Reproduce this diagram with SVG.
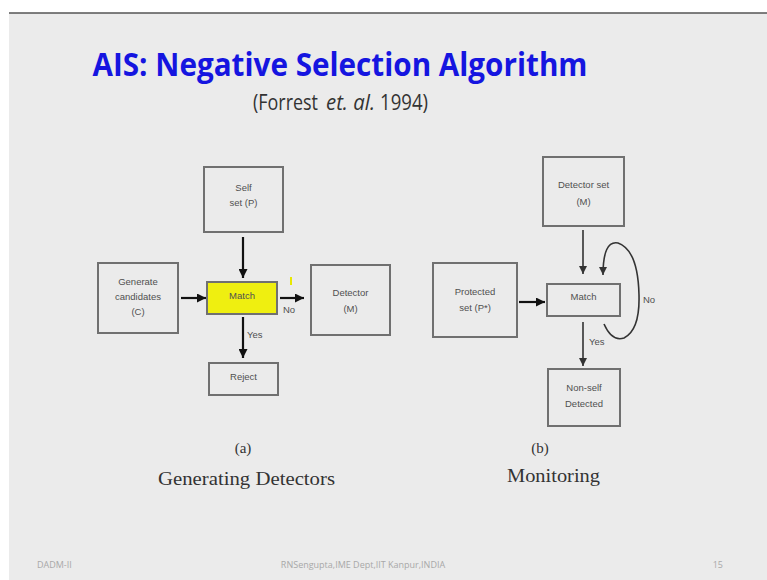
<svg xmlns="http://www.w3.org/2000/svg" width="767" height="580" viewBox="0 0 767 580">
<style>
.box{fill:none;stroke:#707070;stroke-width:2}
.bt{font-family:"Liberation Sans",Arial,sans-serif;font-size:9.5px;fill:#505050;text-anchor:middle}
.lbl{font-family:"Liberation Sans",Arial,sans-serif;font-size:9.5px;fill:#505050}
.arr{stroke:#111;stroke-width:2.2;fill:none}
.arrb{stroke:#333;stroke-width:1.6;fill:none}
.cap{font-family:"Liberation Serif","DejaVu Serif",serif;fill:#333;text-anchor:middle}
.foot{font-family:"Open Sans","Liberation Sans",sans-serif;font-size:9px;fill:#a8a8a8}
.sub{font-family:"Open Sans","Noto Sans",sans-serif;font-size:21px;fill:#333}
</style>
<defs>
<marker id="ah" viewBox="0 0 10 10" refX="10" refY="5" markerUnits="userSpaceOnUse" markerWidth="9" markerHeight="9" orient="auto"><path d="M0,0 L10,5 L0,10 z" fill="#111"/></marker>
<marker id="ahb" viewBox="0 0 10 10" refX="10" refY="5" markerUnits="userSpaceOnUse" markerWidth="8" markerHeight="8" orient="auto"><path d="M0,0 L10,5 L0,10 z" fill="#333"/></marker>
</defs>
<rect x="0" y="0" width="767" height="580" fill="#ffffff"/>
<rect x="9" y="13" width="758" height="567" fill="#ebebeb"/>
<line x1="9" y1="13" x2="767" y2="13" stroke="#555" stroke-width="1.5"/>

<g id="title">
<text x="340" y="76" font-family="'Open Sans','Noto Sans',sans-serif" font-weight="bold" font-size="33" fill="#1515e0" text-anchor="middle" textLength="495" lengthAdjust="spacingAndGlyphs">AIS: Negative Selection Algorithm</text>
<text class="sub" x="253" y="110" textLength="65" lengthAdjust="spacingAndGlyphs">(Forrest</text>
<text class="sub" x="326" y="110" font-style="italic" textLength="49" lengthAdjust="spacingAndGlyphs">et. al.</text>
<text class="sub" x="380" y="110" textLength="48" lengthAdjust="spacingAndGlyphs">1994)</text>
</g>

<g id="connectors">
<line class="arr" x1="243" y1="237" x2="243" y2="278" marker-end="url(#ah)"/>
<line class="arr" x1="181" y1="298" x2="206" y2="298" marker-end="url(#ah)"/>
<line class="arr" x1="280" y1="298" x2="304" y2="298" marker-end="url(#ah)"/>
<line class="arr" x1="243" y1="317" x2="243" y2="358" marker-end="url(#ah)"/>
<line class="arrb" x1="583" y1="230" x2="583" y2="274" marker-end="url(#ahb)"/>
<line class="arr" x1="519" y1="302" x2="545" y2="302" marker-end="url(#ah)"/>
<line class="arrb" x1="583" y1="322" x2="583" y2="366" marker-end="url(#ahb)"/>
<path class="arrb" d="M604 324 Q612 342 624 338 Q640 330 639 295 Q638 250 618 243 Q603 240 603 275" marker-end="url(#ahb)"/>
<text class="lbl" x="283" y="313">No</text>
<text class="lbl" x="247" y="338">Yes</text>
<text class="lbl" x="589" y="345">Yes</text>
<text class="lbl" x="643" y="303">No</text>
<line x1="291" y1="277" x2="291" y2="285" stroke="#e8e800" stroke-width="2"/>
</g>

<g id="self">
<rect class="box" x="204" y="167" width="79" height="65"/>
<text class="bt" x="243.5" y="191">Self</text>
<text class="bt" x="243.5" y="206">set (P)</text>
</g>
<g id="generate">
<rect class="box" x="98" y="263" width="80" height="70"/>
<text class="bt" x="138" y="285">Generate</text>
<text class="bt" x="138" y="300">candidates</text>
<text class="bt" x="138" y="315">(C)</text>
</g>
<g id="match-a">
<rect x="207" y="282" width="70" height="32" fill="#efef10" stroke="#707070" stroke-width="2"/>
<text class="bt" x="242" y="299" fill="#444">Match</text>
</g>
<g id="detector">
<rect class="box" x="311" y="265" width="79" height="70"/>
<text class="bt" x="350.5" y="296">Detector</text>
<text class="bt" x="350.5" y="312">(M)</text>
</g>
<g id="reject">
<rect class="box" x="209" y="363" width="69" height="32"/>
<text class="bt" x="243.5" y="380">Reject</text>
</g>

<g id="detector-set">
<rect class="box" x="543" y="157" width="81" height="69"/>
<text class="bt" x="583.5" y="188">Detector set</text>
<text class="bt" x="583.5" y="205">(M)</text>
</g>
<g id="protected">
<rect class="box" x="433" y="263" width="84" height="74"/>
<text class="bt" x="475" y="295">Protected</text>
<text class="bt" x="475" y="311">set (P*)</text>
</g>
<g id="match-b">
<rect class="box" x="547" y="284" width="73" height="32"/>
<text class="bt" x="583.5" y="300">Match</text>
</g>
<g id="nonself">
<rect class="box" x="548" y="369" width="72" height="57"/>
<text class="bt" x="584" y="391">Non-self</text>
<text class="bt" x="584" y="407">Detected</text>
</g>

<g id="captions">
<text class="cap" x="243" y="453" font-size="15">(a)</text>
<text class="cap" x="246.5" y="485" font-size="18" textLength="177" lengthAdjust="spacingAndGlyphs">Generating Detectors</text>
<text class="cap" x="540" y="453" font-size="15">(b)</text>
<text class="cap" x="553.5" y="482" font-size="18" textLength="93" lengthAdjust="spacingAndGlyphs">Monitoring</text>
</g>

<g id="footer">
<text class="foot" x="37" y="568">DADM-II</text>
<text class="foot" x="363" y="568" text-anchor="middle">RNSengupta,IME Dept,IIT Kanpur,INDIA</text>
<text class="foot" x="723" y="568" text-anchor="end">15</text>
</g>
</svg>
